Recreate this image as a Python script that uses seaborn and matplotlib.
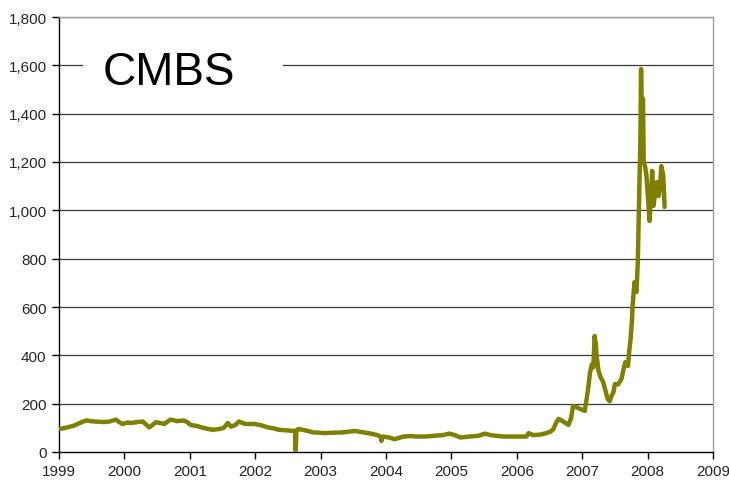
import matplotlib
matplotlib.use("Agg")
import matplotlib.pyplot as plt
import matplotlib.ticker as mticker
from matplotlib.patches import Rectangle
import seaborn as sns
import pandas as pd

sns.set_style("ticks")
plt.rcParams['font.family'] = ['Liberation Sans', 'DejaVu Sans']

title = "CMBS"
year_ticks = list(range(1999, 2010))
value_ticks = list(range(0, 1801, 200))

years = [
    1999.00, 1999.10, 1999.23, 1999.30, 1999.37, 1999.42, 1999.50, 1999.57, 1999.68, 1999.77,
    1999.87, 1999.92, 1999.97, 2000.05, 2000.10, 2000.20, 2000.28, 2000.34, 2000.38, 2000.43,
    2000.48, 2000.55, 2000.61, 2000.66, 2000.71, 2000.80, 2000.91, 2000.96, 2001.01, 2001.10,
    2001.18, 2001.27, 2001.35, 2001.45, 2001.52, 2001.58, 2001.63, 2001.70, 2001.75, 2001.85,
    2001.99, 2002.10, 2002.19, 2002.28, 2002.36, 2002.46, 2002.56, 2002.61, 2002.62, 2002.63,
    2002.66, 2002.72, 2002.79, 2002.89, 2002.98, 2003.06, 2003.20, 2003.33, 2003.43, 2003.53,
    2003.63, 2003.73, 2003.87, 2003.92, 2003.93, 2003.95, 2004.05, 2004.13, 2004.27, 2004.37,
    2004.47, 2004.60, 2004.74, 2004.87, 2004.97, 2005.05, 2005.14, 2005.28, 2005.41, 2005.51,
    2005.60, 2005.68, 2005.80, 2005.95, 2006.05, 2006.15, 2006.18, 2006.25, 2006.36, 2006.45,
    2006.52, 2006.56, 2006.60, 2006.64, 2006.70, 2006.79, 2006.83, 2006.86, 2006.92, 2006.97,
    2007.04, 2007.09, 2007.12, 2007.15, 2007.17, 2007.19, 2007.21, 2007.22, 2007.25, 2007.28,
    2007.32, 2007.36, 2007.39, 2007.42, 2007.45, 2007.48, 2007.50, 2007.55, 2007.60, 2007.63,
    2007.66, 2007.70, 2007.72, 2007.74, 2007.76, 2007.77, 2007.80, 2007.83, 2007.85, 2007.87,
    2007.89, 2007.90, 2007.91, 2007.93, 2007.94, 2007.96, 2007.98, 2008.00, 2008.03, 2008.05,
    2008.07, 2008.09, 2008.12, 2008.14, 2008.17, 2008.19, 2008.21, 2008.24, 2008.26,
]
spreads = [
    95, 100, 109, 118, 126, 131, 127, 126, 124, 126,
    134, 124, 116, 122, 120, 124, 126, 112, 102, 112,
    123, 120, 116, 126, 134, 128, 130, 124, 112, 108,
    102, 96, 92, 95, 100, 120, 105, 112, 126, 116,
    116, 110, 102, 98, 92, 90, 88, 86, 4, 90,
    95, 92, 88, 81, 80, 78, 80, 81, 84, 87,
    82, 78, 70, 62, 46, 64, 60, 53, 64, 66,
    64, 64, 67, 70, 76, 70, 60, 64, 67, 76,
    70, 67, 64, 64, 64, 64, 78, 70, 72, 78,
    85, 95, 120, 137, 128, 112, 140, 190, 185, 178,
    170, 260, 330, 364, 350, 480, 440, 397, 335, 310,
    290, 250, 219, 210, 232, 250, 281, 280, 302, 340,
    372, 356, 420, 468, 540, 604, 703, 662, 786, 1047,
    1300, 1585, 1420, 1461, 1200, 1183, 1150, 1076, 956, 1050,
    1163, 1018, 1080, 1117, 1059, 1100, 1183, 1142, 1014,
]

df = pd.DataFrame({"year": years, "spread": spreads})

fig = plt.figure(figsize=(7.29, 4.89), dpi=100)
ax = fig.add_axes([59 / 729, 36 / 489, 654 / 729, 435 / 489])

for v in value_ticks[1:]:
    ax.axhline(v, color="#3a3a3a", lw=0.9, zorder=1)

sns.lineplot(data=df, x="year", y="spread", ax=ax, color="#7f7f00", lw=3.2,
             zorder=3, estimator=None, sort=False)

ax.set_xlim(1999, 2009)
ax.set_ylim(0, 1800)
ax.set_xticks(year_ticks)
ax.set_yticks(value_ticks)
ax.yaxis.set_major_formatter(mticker.FuncFormatter(lambda v, p: f"{int(v):,}"))
ax.set_xlabel("")
ax.set_ylabel("")
ax.tick_params(axis="both", labelsize=11, length=5, width=1, color="black", direction="out", pad=4)

for s in ["left", "bottom"]:
    ax.spines[s].set_color("black")
    ax.spines[s].set_linewidth(1)
for s in ["top", "right"]:
    ax.spines[s].set_visible(True)
    ax.spines[s].set_color("#a0a0a0")
    ax.spines[s].set_linewidth(1)

ax.add_patch(Rectangle((24 / 654, 1480 / 1800), 200 / 654, 230 / 1800,
                       transform=ax.transAxes, facecolor="white", edgecolor="none", zorder=2))
ax.text(44 / 654, 1523 / 1800, title, transform=ax.transAxes, fontsize=33,
        va="baseline", ha="left", color="black", zorder=4)

fig.savefig("out.png", dpi=100)
